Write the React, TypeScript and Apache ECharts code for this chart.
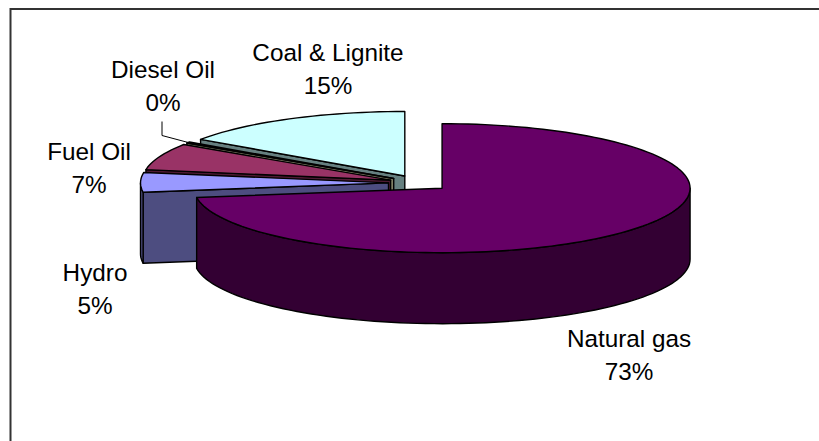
import React, { useEffect, useRef } from "react";
import * as echarts from "echarts";

// Fuel mix shares in percent, in clockwise order from twelve o'clock.
const categories = ["Natural gas", "Hydro", "Fuel Oil", "Diesel Oil", "Coal & Lignite"];
const shares = [72.7, 4.9, 6.7, 0.3, 15.4];
const topColors = ["#660066", "#9999FF", "#993366", "#FFFFCC", "#CCFFFF"];
const sideColors = ["#330033", "#4D4D80", "#4D1A33", "#808066", "#668080"];

// Centre of each two-line label, and the spacing between its lines.
const labelCentres = [
  [629, 355],
  [95, 289],
  [89, 167.5],
  [163, 85.5],
  [328, 68.5],
];
const LINE_GAP = 33;

// Projection of the tilted pie.
const CX = 419;
const CY = 183;
const RX = 248;
const RY = 64.5;
const DEPTH = 71;
const EXPLODE = 30.5;

const rad = (deg: number) => (deg * Math.PI) / 180;
const rim = (ox: number, oy: number, deg: number): number[] => [
  ox + RX * Math.sin(rad(deg)),
  oy - RY * Math.cos(rad(deg)),
];

// Sweep of each slice in degrees, clockwise from the top.
const total = shares.reduce((a, b) => a + b, 0);
const sweeps: [number, number][] = [];
shares.reduce((acc, v) => {
  const next = acc + (v / total) * 360;
  sweeps.push([acc, next]);
  return next;
}, 0);

const arcPoints = (ox: number, oy: number, from: number, to: number): number[][] => {
  const steps = Math.max(1, Math.ceil((to - from) / 2));
  const pts: number[][] = [];
  for (let i = 0; i <= steps; i++) pts.push(rim(ox, oy, from + ((to - from) * i) / steps));
  return pts;
};

const edge = { stroke: "#000", lineWidth: 1.4, lineJoin: "round" as const };

function renderSlice(params: any, api: any) {
  const i = api.value(0) as number;
  const [a0, a1] = sweeps[i];
  const mid = rad((a0 + a1) / 2);
  const ox = CX + EXPLODE * Math.sin(mid);
  const oy = CY - (EXPLODE * Math.cos(mid) * RY) / RX;
  const children: any[] = [];
  const drop = (p: number[]) => [p[0], p[1] + DEPTH];

  // Radial wall on the slice's leading edge, seen when it faces the viewer.
  if (Math.sin(rad(a0)) < -0.01) {
    const tip = rim(ox, oy, a0);
    children.push({
      type: "polygon",
      shape: { points: [[ox, oy], tip, drop(tip), [ox, oy + DEPTH]] },
      style: { fill: sideColors[i], ...edge },
    });
  }

  // Outer wall over the front half of the ellipse.
  const wallFrom = Math.max(a0, 90);
  const wallTo = Math.min(a1, 270);
  if (wallTo > wallFrom) {
    const arc = arcPoints(ox, oy, wallFrom, wallTo);
    children.push({
      type: "polygon",
      shape: { points: [...arc, ...arc.slice().reverse().map(drop)] },
      style: { fill: sideColors[i], ...edge },
    });
  }

  // Top face.
  children.push({
    type: "polygon",
    shape: { points: [[ox, oy], ...arcPoints(ox, oy, a0, a1)] },
    style: { fill: topColors[i], ...edge },
  });

  // Two-line label, with a leader for a slice too thin to sit beside.
  const [lx, ly] = labelCentres[i];
  if (a1 - a0 < 3) {
    const tip = rim(ox, oy, (a0 + a1) / 2);
    children.push({
      type: "polyline",
      shape: { points: [[lx - 1, ly + 36], [lx - 1, ly + 50], tip] },
      style: { stroke: "#000", lineWidth: 1, fill: "none" },
    });
  }
  [categories[i], `${Math.round(shares[i])}%`].forEach((text, line) => {
    children.push({
      type: "text",
      x: lx,
      y: ly + (line === 0 ? -LINE_GAP / 2 : LINE_GAP / 2),
      style: {
        text,
        fill: "#000",
        font: '24.3px "Liberation Sans", Arial, sans-serif',
        align: "center",
        verticalAlign: "middle",
      },
    });
  });

  return { type: "group", children };
}

export default function App() {
  const ref = useRef<HTMLDivElement>(null);

  useEffect(() => {
    const chart = echarts.init(ref.current!, undefined, { renderer: "svg" });
    chart.setOption({
      animation: false,
      backgroundColor: "#fff",
      graphic: [
        {
          type: "polyline",
          shape: { points: [[10.5, 441], [10.5, 9], [819, 9]] },
          style: { stroke: "#333", lineWidth: 2, fill: "none" },
        },
      ],
      series: [
        {
          type: "custom",
          coordinateSystem: "none",
          silent: true,
          renderItem: renderSlice,
          // Painted back to front, so the first slice ends up on top.
          data: categories.map((_, i) => [categories.length - 1 - i]),
        },
      ],
    });
    return () => chart.dispose();
  }, []);

  return <div ref={ref} style={{ position: "fixed", left: 0, top: 0, width: 819, height: 441 }} />;
}
